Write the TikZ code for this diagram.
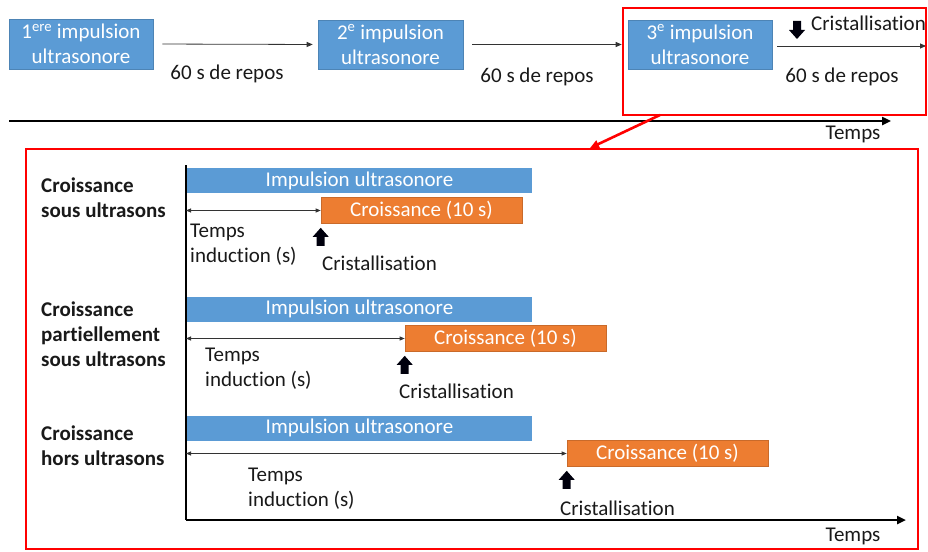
\documentclass[tikz,border=0pt]{standalone}
\usepackage{fontspec}
\setmainfont{Carlito}[Ligatures={NoCommon}]
\usetikzlibrary{arrows.meta}
\definecolor{ublue}{HTML}{5B9BD5}
\definecolor{uorange}{HTML}{ED7D31}
\definecolor{ured}{HTML}{FF0000}
\begin{document}
\begin{tikzpicture}[x=1pt,y=-1pt,
  txt/.style={inner sep=0pt, font=\fontsize{21}{25}\selectfont, text=black!90},
  bluebox/.style={fill=ublue, draw=ublue!85!black, line width=0.6pt, text=white, align=center, inner sep=0pt, font=\fontsize{21}{25}\selectfont},
  bar/.style={fill=ublue, draw=none, text=white, inner sep=0pt, minimum width=345pt, minimum height=25pt, font=\fontsize{21}{25}\selectfont},
  orbox/.style={fill=uorange, draw=uorange!85!black, line width=0.6pt, text=white, inner sep=0pt, minimum width=201pt, minimum height=26pt, font=\fontsize{21}{25}\selectfont},
  lbl/.style={inner sep=0pt, align=left, font=\fontsize{21}{25}\selectfont\bfseries, text=black!90},
  thin/.style={line width=0.8pt, black!80, -{Triangle[length=6pt,width=5pt]}},
  dbl/.style={line width=0.8pt, black!80, {Triangle[length=5pt,width=4pt]}-{Triangle[length=5pt,width=4pt]}},
  axis/.style={line width=2.6pt, black, -{Triangle[length=9pt,width=8pt]}},
  redline/.style={line width=2.6pt, ured},
  blk/.style={fill=black!95!blue}
]
\useasboundingbox (0,0) rectangle (928,551);
\fill[white] (0,0) rectangle (928,551);

% ---------- top row ----------
\node[bluebox, minimum width=144pt, minimum height=50pt] (p1) at (81,44) {1\textsuperscript{ere} impulsion\\ultrasonore};
\node[bluebox, minimum width=145pt, minimum height=49pt] (p2) at (390.5,44.5) {2\textsuperscript{e} impulsion\\ultrasonore};
\node[bluebox, minimum width=144pt, minimum height=49pt] (p3) at (700,44.5) {3\textsuperscript{e} impulsion\\ultrasonore};
\coordinate (aend) at (926,46);

\draw[thin, shorten <=9pt, shorten >=5pt] (p1.east) -- (p2.west);
\draw[thin, shorten <=9pt, shorten >=6pt] (p2.east) -- (p3.west);
\draw[thin, shorten <=5pt] (p3.east |- aend) -- (aend);

\node[txt] (r1) at (227,74) {60 s de repos};
\node[txt] (r2) at (537,77) {60 s de repos};
\node[txt] (r3) at (842,77) {60 s de repos};
\node[txt, anchor=west] (ctop) at (811,23) {Cristallisation};
\fill[blk, shift={(797,21)}] (-4,0) -- (4,0) -- (4,9) -- (8,9) -- (0,18) -- (-8,9) -- (-4,9) -- cycle;

% time line
\coordinate (t0) at (9,121);
\coordinate (t1) at (891,121);
\draw[axis] (t0) -- (t1);
\node[txt] (temps1) at (853,134) {Temps};

% red frames
\draw[redline] (623,8) rectangle (926,115);
\coordinate (z0) at (660,115);
\coordinate (z1) at (590,148);
\draw[redline, -{Triangle[length=9pt,width=8pt]}] (z0) -- (z1);
\draw[redline] (26,149) rectangle (918,549);

% ---------- lower chart ----------
\coordinate (O) at (186,520);
\coordinate (ytop) at (186,165);
\coordinate (xend) at (906,520);
\draw[line width=2.6pt] (ytop) -- (O);
\draw[axis] (O) -- (xend);
\node[txt] (temps2) at (853,536) {Temps};

% row 1
\node[lbl, anchor=west] (l1) at (41,198) {Croissance\\sous ultrasons};
\node[bar] (b1) at (359.5,180.5) {Impulsion ultrasonore};
\node[orbox] (o1) at (421.5,210.5) {Croissance (10 s)};
\draw[dbl] (O |- o1.west) -- (o1.west);
\node[txt, align=left, anchor=west] (i1) at (190,245) {Temps\\induction (s)};
\fill[blk, shift={(o1.south west)}] (0,4) -- (8,13) -- (4,13) -- (4,22) -- (-4,22) -- (-4,13) -- (-8,13) -- cycle;
\node[txt, anchor=west] (c1) at (322,263) {Cristallisation};

% row 2
\node[lbl, anchor=west] (l2) at (41,334) {Croissance\\partiellement\\sous ultrasons};
\node[bar] (b2) at (359.5,309) {Impulsion ultrasonore};
\node[orbox] (o2) at (505.5,338.5) {Croissance (10 s)};
\draw[dbl] (O |- o2.west) -- (o2.west);
\node[txt, align=left, anchor=west] (i2) at (205,369) {Temps\\induction (s)};
\fill[blk, shift={(o2.south west)}] (0,4) -- (8,13) -- (4,13) -- (4,22) -- (-4,22) -- (-4,13) -- (-8,13) -- cycle;
\node[txt, anchor=west] (c2) at (399,391) {Cristallisation};

% row 3
\node[lbl, anchor=west] (l3) at (41,446) {Croissance\\hors ultrasons};
\node[bar] (b3) at (359.5,428) {Impulsion ultrasonore};
\node[orbox] (o3) at (667.5,453.5) {Croissance (10 s)};
\draw[dbl] (O |- o3.west) -- (o3.west);
\node[txt, align=left, anchor=west] (i3) at (248,489) {Temps\\induction (s)};
\fill[blk, shift={(o3.south west)}] (0,4) -- (8,13) -- (4,13) -- (4,22) -- (-4,22) -- (-4,13) -- (-8,13) -- cycle;
\node[txt, anchor=west] (c3) at (560,508) {Cristallisation};
\end{tikzpicture}
\end{document}
